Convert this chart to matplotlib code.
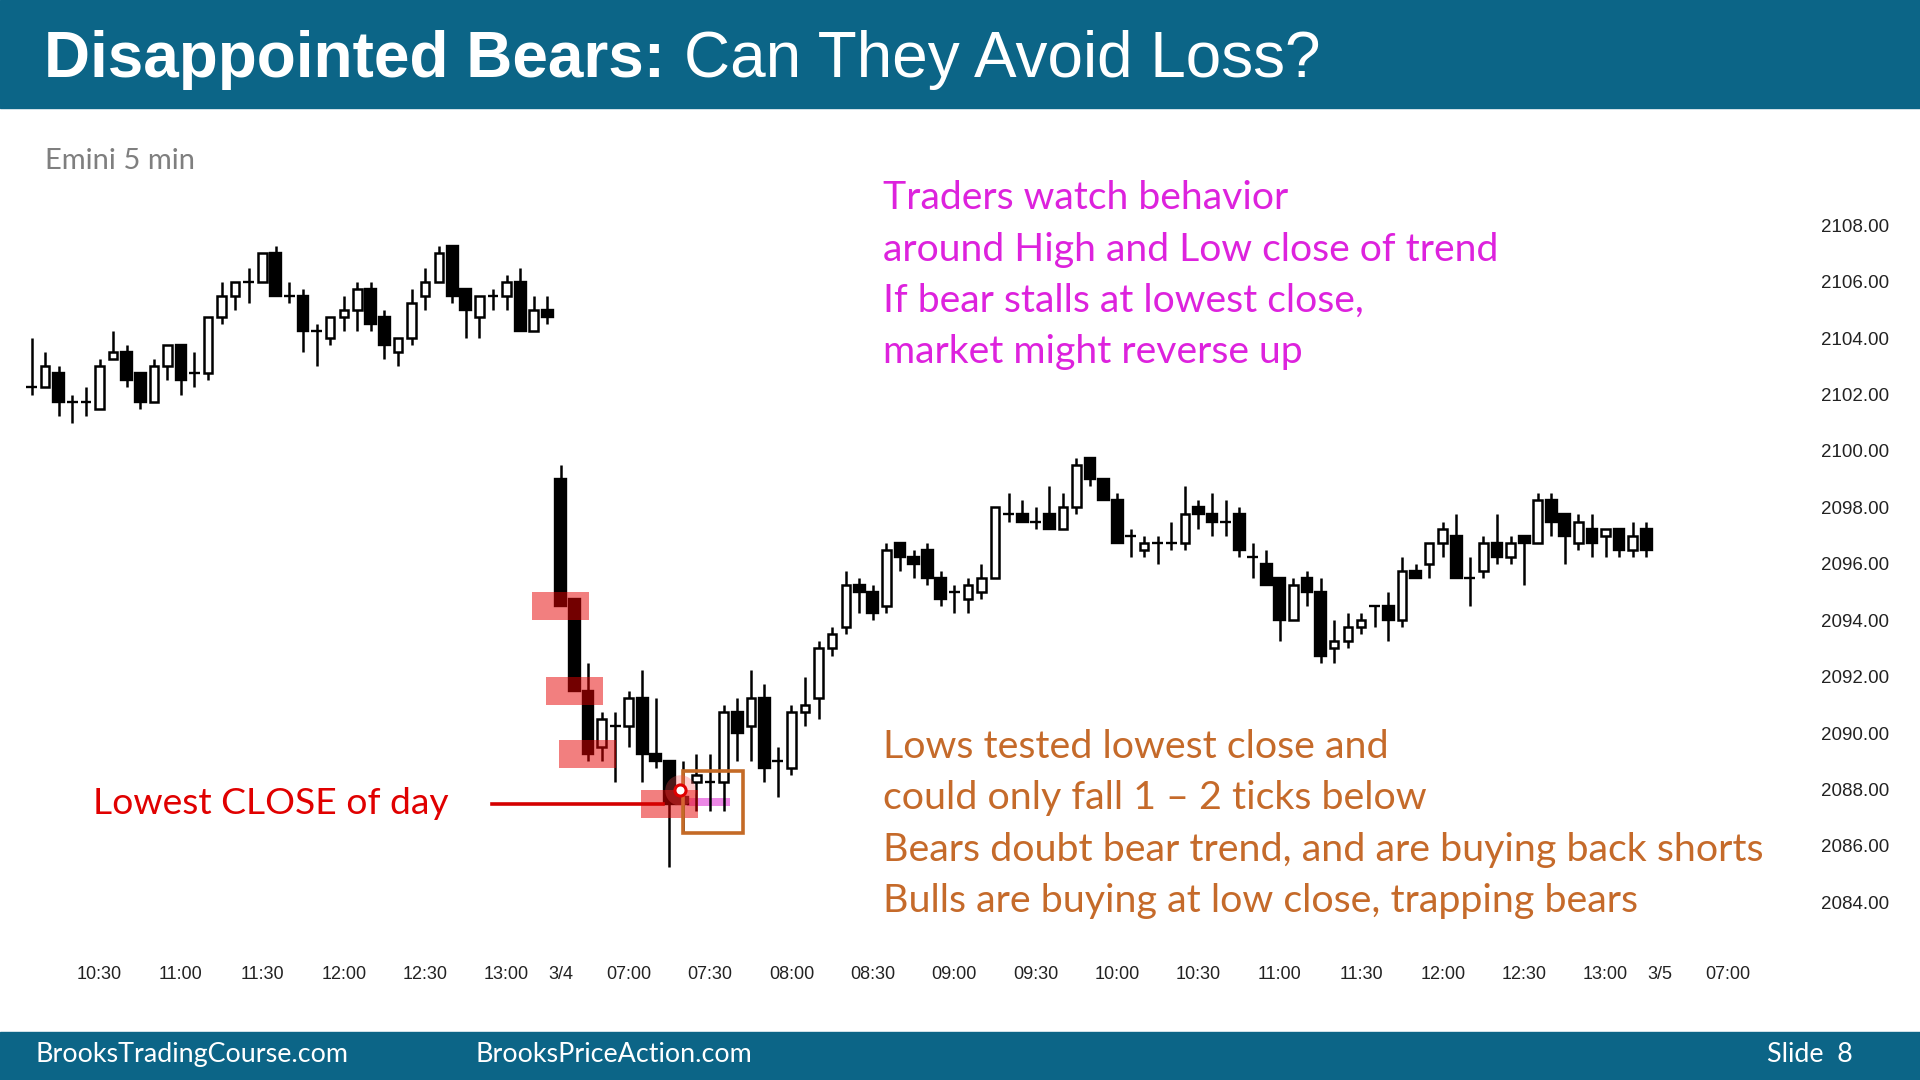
import numpy as np
import matplotlib.pyplot as plt
from matplotlib.patches import Rectangle

# Emini 5 min bars. bar 0 = first bar of 3/4 (06:35)
first_bar = -39
opens = [2102.25, 2102.25, 2102.75, 2101.75, 2101.75, 2101.5, 2103.25, 2103.5, 2102.75, 2101.75,
         2103.0, 2103.75, 2102.75, 2102.75, 2104.75, 2105.5, 2106.0, 2106.0, 2107.0, 2105.5,
         2105.5, 2104.25, 2104.0, 2104.75, 2105.0, 2105.75, 2104.75, 2103.5, 2104.0, 2105.5,
         2106.0, 2107.25, 2105.75, 2104.75, 2105.5, 2105.5, 2106.0, 2104.25, 2105.0,
         2099.0, 2094.75, 2091.5, 2089.5, 2090.25, 2090.25, 2091.25, 2089.25, 2089.0, 2087.75,
         2088.25, 2088.25, 2088.25, 2090.75, 2090.25, 2091.25, 2089.0, 2088.75, 2090.75, 2091.25,
         2093.0, 2093.75, 2095.25, 2095.0, 2094.5, 2096.75, 2096.25, 2096.5, 2095.5, 2095.0,
         2094.75, 2095.0, 2095.5, 2097.75, 2097.75, 2097.5, 2097.75, 2097.25, 2098.0, 2099.75,
         2099.0, 2098.25, 2097.0, 2096.5, 2096.75, 2096.75, 2096.75, 2098.0, 2097.75, 2097.5,
         2097.75, 2096.25, 2096.0, 2095.5, 2094.0, 2095.5, 2095.0, 2093.0, 2093.25, 2093.75,
         2094.5, 2094.5, 2094.0, 2095.75, 2096.0, 2096.75, 2097.0, 2095.5, 2095.75, 2096.75,
         2096.25, 2097.0, 2096.75, 2098.25, 2097.75, 2096.75, 2097.25, 2097.0, 2097.25, 2096.5,
         2097.25]
highs = [2104.0, 2103.5, 2103.0, 2102.0, 2102.25, 2103.25, 2104.25, 2103.75, 2102.75, 2103.25,
         2103.75, 2103.75, 2103.5, 2104.75, 2106.0, 2106.0, 2106.5, 2107.0, 2107.25, 2106.0,
         2105.75, 2104.5, 2104.75, 2105.5, 2106.0, 2106.0, 2105.0, 2104.0, 2105.75, 2106.5,
         2107.25, 2107.25, 2105.75, 2105.5, 2105.75, 2106.25, 2106.5, 2105.5, 2105.5,
         2099.5, 2094.75, 2092.5, 2090.75, 2090.75, 2091.5, 2092.25, 2091.25, 2089.0, 2089.0,
         2089.25, 2089.25, 2091.0, 2091.25, 2092.25, 2091.75, 2089.5, 2091.0, 2092.0, 2093.25,
         2093.75, 2095.75, 2095.5, 2095.25, 2096.75, 2096.75, 2096.5, 2096.75, 2095.75, 2095.25,
         2095.5, 2096.0, 2098.0, 2098.5, 2098.25, 2098.0, 2098.75, 2098.5, 2099.75, 2099.75,
         2099.0, 2098.5, 2097.25, 2097.0, 2097.0, 2097.5, 2098.75, 2098.25, 2098.5, 2098.25,
         2098.0, 2096.75, 2096.5, 2095.5, 2095.5, 2095.75, 2095.5, 2094.0, 2094.25, 2094.25,
         2094.5, 2095.0, 2096.25, 2096.0, 2096.75, 2097.5, 2097.75, 2096.25, 2097.0, 2097.75,
         2097.0, 2097.0, 2098.5, 2098.5, 2097.75, 2097.75, 2097.75, 2097.25, 2097.25, 2097.5,
         2097.5]
lows = [2102.0, 2102.25, 2101.25, 2101.0, 2101.25, 2101.5, 2103.25, 2102.25, 2101.5, 2101.75,
        2102.5, 2102.0, 2102.25, 2102.5, 2104.5, 2105.0, 2105.25, 2106.0, 2105.5, 2105.25,
        2103.5, 2103.0, 2103.75, 2104.25, 2104.25, 2104.25, 2103.25, 2103.0, 2103.75, 2105.0,
        2106.0, 2105.25, 2104.0, 2104.0, 2105.0, 2105.0, 2104.25, 2104.25, 2104.5,
        2094.5, 2091.5, 2089.0, 2089.0, 2088.25, 2089.5, 2088.25, 2088.75, 2085.25, 2086.5,
        2087.25, 2087.25, 2087.25, 2089.0, 2089.0, 2088.25, 2087.75, 2088.5, 2090.25, 2090.5,
        2092.75, 2093.5, 2094.25, 2094.0, 2094.25, 2095.75, 2095.5, 2095.25, 2094.5, 2094.25,
        2094.25, 2094.75, 2095.5, 2097.5, 2097.5, 2097.25, 2097.25, 2097.25, 2097.75, 2098.75,
        2098.25, 2096.75, 2096.25, 2096.25, 2096.0, 2096.5, 2096.5, 2097.25, 2097.0, 2097.0,
        2096.25, 2095.5, 2095.25, 2093.25, 2094.0, 2094.5, 2092.5, 2092.5, 2093.0, 2093.5,
        2093.75, 2093.25, 2093.75, 2095.5, 2095.5, 2096.25, 2095.5, 2094.5, 2095.5, 2096.0,
        2096.0, 2095.25, 2096.75, 2097.0, 2096.0, 2096.5, 2096.25, 2096.25, 2096.25, 2096.25,
        2096.25]
closes = [2102.25, 2103.0, 2101.75, 2101.75, 2101.75, 2103.0, 2103.5, 2102.5, 2101.75, 2103.0,
          2103.75, 2102.5, 2102.75, 2104.75, 2105.5, 2106.0, 2106.0, 2107.0, 2105.5, 2105.5,
          2104.25, 2104.25, 2104.75, 2105.0, 2105.75, 2104.5, 2103.75, 2104.0, 2105.25, 2106.0,
          2107.0, 2105.5, 2105.0, 2105.5, 2105.5, 2106.0, 2104.25, 2105.0, 2104.75,
          2094.5, 2091.5, 2089.25, 2090.5, 2090.25, 2091.25, 2089.25, 2089.0, 2087.5, 2087.5,
          2088.5, 2088.25, 2090.75, 2090.0, 2091.25, 2088.75, 2089.0, 2090.75, 2091.0, 2093.0,
          2093.5, 2095.25, 2095.0, 2094.25, 2096.5, 2096.25, 2096.0, 2095.5, 2094.75, 2095.0,
          2095.25, 2095.5, 2098.0, 2097.75, 2097.5, 2097.5, 2097.25, 2098.0, 2099.5, 2099.0,
          2098.25, 2096.75, 2097.0, 2096.75, 2096.75, 2096.75, 2097.75, 2097.75, 2097.5, 2097.5,
          2096.5, 2096.25, 2095.25, 2094.0, 2095.25, 2095.0, 2092.75, 2093.25, 2093.75, 2094.0,
          2094.5, 2094.0, 2095.75, 2095.5, 2096.75, 2097.25, 2095.5, 2095.5, 2096.75, 2096.25,
          2096.75, 2096.75, 2098.25, 2097.5, 2097.0, 2097.5, 2096.75, 2097.25, 2096.5, 2097.0,
          2096.5]

tick_bars = [-34, -28, -22, -16, -10, -4, 0, 5, 11, 17, 23, 29, 35, 41, 47, 53, 59, 65, 71, 77, 81, 86]
tick_labels = ["10:30", "11:00", "11:30", "12:00", "12:30", "13:00", "3/4", "07:00", "07:30", "08:00",
               "08:30", "09:00", "09:30", "10:00", "10:30", "11:00", "11:30", "12:00", "12:30", "13:00",
               "3/5", "07:00"]
price_ticks = np.arange(2084, 2109, 2)

# bars whose close got highlighted in red
marked_bars = [0, 1, 2, 8]

magenta_lines = ["Traders watch behavior", "around High and Low close of trend",
                 "If bear stalls at lowest close,", "market might reverse up"]
orange_lines = ["Lows tested lowest close and", "could only fall 1 \u2013 2 ticks below",
                "Bears doubt bear trend, and are buying back shorts",
                "Bulls are buying at low close, trapping bears"]

BLUE = "#0c6587"
TXT = "Lato"

o = np.array(opens)
h = np.array(highs)
l = np.array(lows)
c = np.array(closes)
x = np.arange(len(o)) + first_bar
bull = c > o

fig = plt.figure(figsize=(19.2, 10.8), dpi=100)
fig.patch.set_facecolor("white")
fig.add_artist(Rectangle((0, 0.9002), 1, 0.1, transform=fig.transFigure, color=BLUE, zorder=0))
fig.add_artist(Rectangle((0, 0), 1, 0.0442, transform=fig.transFigure, color=BLUE, zorder=0))

ax = fig.add_axes([0.00944, 0.11224, 0.91862, 0.73141])
ax.set_xlim(-40, 90)
ax.set_ylim(2082, 2110)
for s in ax.spines.values():
    s.set_visible(False)

# candles
ax.vlines(x, l, h, color="black", lw=1.8, zorder=2)
ax.bar(x[~bull], (o - c)[~bull], bottom=c[~bull], width=0.8, color="black",
       edgecolor="black", lw=1.7, zorder=3)
ax.bar(x[bull], (c - o)[bull], bottom=o[bull], width=0.62, facecolor="white",
       edgecolor="black", lw=1.8, zorder=3)

# annotations
for b in marked_bars:
    i = b - first_bar
    ax.add_patch(Rectangle((b - 2.1, c[i] - 0.5), 4.2, 1.0, color="#e60000", alpha=0.5, lw=0, zorder=4))

low_close = c[x >= 0].min()
ax.plot([-5.1, 7.5], [low_close, low_close], color="#d40000", lw=2.6, zorder=5)
ax.add_patch(Rectangle((9.3, low_close - 0.1), 3.2, 0.3, color="#e86ae0", alpha=0.8, lw=0, zorder=1))
ax.add_patch(Rectangle((9.0, 2086.45), 4.4, 2.2, fill=False, edgecolor="#c46a26", lw=2.6, zorder=6))
ax.plot(8.8, 2088.0, "o", ms=22, color="#ff5050", alpha=0.3, mew=0, zorder=6)
ax.plot(8.8, 2088.0, "o", ms=8, mfc="white", mec="#e00000", mew=2.2, zorder=7)

# axes text
ax.yaxis.tick_right()
ax.set_yticks(price_ticks, [f"{v:.2f}" for v in price_ticks])
ax.set_xticks(tick_bars, tick_labels)
ax.tick_params(axis="y", length=0, pad=28, labelsize=13.5, labelcolor="#222222")
ax.tick_params(axis="x", length=0, pad=5, labelsize=13, labelcolor="#222222")
for t in ax.get_xticklabels() + ax.get_yticklabels():
    t.set_fontfamily("Liberation Sans")

# slide text
fig.text(0.023, 0.9286, "Disappointed Bears:", color="white", fontsize=46, weight="bold",
         family="Liberation Sans", va="baseline")
fig.text(0.3565, 0.9286, "Can They Avoid Loss?", color="white", fontsize=46,
         family="Liberation Sans", va="baseline")
fig.text(0.0236, 0.8435, "Emini 5 min", color="#7f7f7f", fontsize=21, family=TXT, va="baseline")

for k, s in enumerate(magenta_lines):
    fig.text(0.4598, 0.8063 - k * 0.0476, s, color="#dd22dd", fontsize=28.2, family=TXT, va="baseline")
for k, s in enumerate(orange_lines):
    fig.text(0.4598, 0.2983 - k * 0.0476, s, color="#c56a2a", fontsize=28.4, family=TXT, va="baseline")
fig.text(0.0485, 0.2465, "Lowest CLOSE of day", color="#e00000", fontsize=26.8, family=TXT, va="baseline")

fig.text(0.0185, 0.0238, "BrooksTradingCourse.com", color="white", fontsize=19.4, family=TXT, va="center")
fig.text(0.2474, 0.0238, "BrooksPriceAction.com", color="white", fontsize=19.4, family=TXT, va="center")
fig.text(0.9203, 0.0238, "Slide  8", color="white", fontsize=19.4, family=TXT, va="center")

fig.savefig("out.png", dpi=100, facecolor="white")
